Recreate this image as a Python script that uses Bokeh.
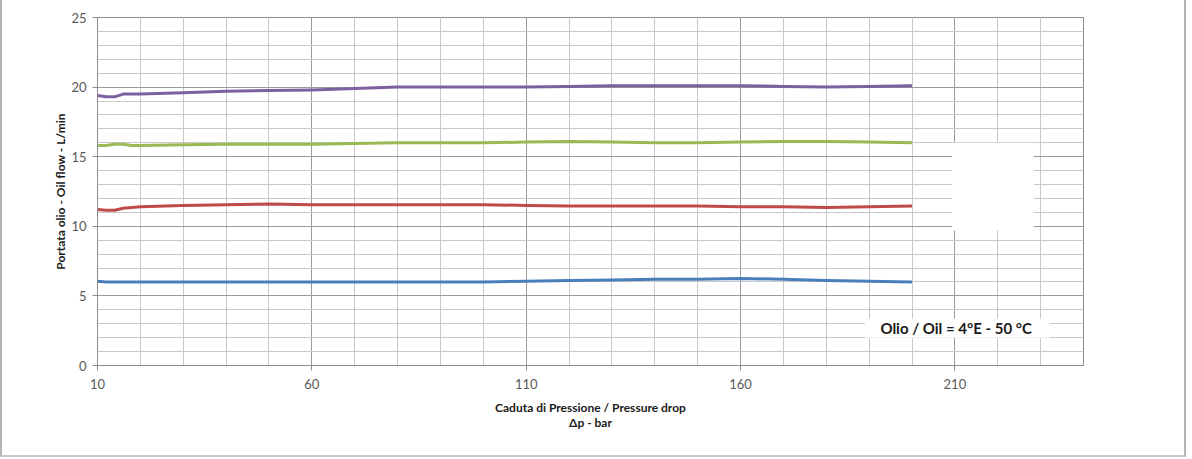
from bokeh.plotting import figure
from bokeh.models import FixedTicker, Range1d, Label
from bokeh.embed import file_html
from bokeh.resources import INLINE

# ---- data ----
dp = [10, 12, 14, 16, 18, 20, 30, 40, 50, 60, 70, 80, 90, 100, 110, 120, 130, 140, 150, 160, 170, 180, 190, 200]
flow_purple = [19.4, 19.3, 19.3, 19.5, 19.5, 19.5, 19.6, 19.7, 19.75, 19.8, 19.9, 20.0, 20.0, 20.0, 20.0, 20.05, 20.1, 20.1, 20.1, 20.1, 20.05, 20.0, 20.05, 20.1]
flow_green = [15.8, 15.8, 15.9, 15.9, 15.8, 15.8, 15.85, 15.9, 15.9, 15.9, 15.95, 16.0, 16.0, 16.0, 16.05, 16.1, 16.05, 16.0, 16.0, 16.05, 16.1, 16.1, 16.05, 16.0]
flow_red = [11.2, 11.15, 11.15, 11.3, 11.35, 11.4, 11.5, 11.55, 11.6, 11.55, 11.55, 11.55, 11.55, 11.55, 11.5, 11.45, 11.45, 11.45, 11.45, 11.4, 11.4, 11.35, 11.4, 11.45]
flow_blue = [6.05, 6.0, 6.0, 6.0, 6.0, 6.0, 6.0, 6.0, 6.0, 6.0, 6.0, 6.0, 6.0, 6.0, 6.05, 6.1, 6.15, 6.2, 6.2, 6.25, 6.2, 6.1, 6.05, 6.0]
x_ticks = [10, 60, 110, 160, 210]
y_ticks = [0, 5, 10, 15, 20, 25]
x_minor = list(range(10, 241, 10))
y_minor = list(range(0, 26, 1))
note_text = "Olio / Oil = 4°E - 50 °C"
x_title = "Caduta di Pressione / Pressure drop\nΔp - bar"
y_title = "Portata olio - Oil flow - L/min"

FONT = "Lato"

p = figure(width=1186, height=457, output_backend="svg", toolbar_location=None,
           x_range=Range1d(10, 240), y_range=Range1d(0, 25),
           min_border_left=95, min_border_right=105, min_border_top=17, min_border_bottom=92)
p.styles = {"border-left": "2px solid #b4b4b4", "border-right": "2px solid #b4b4b4",
            "border-bottom": "2px solid #c8c8c8"}
p.background_fill_color = "white"
p.border_fill_color = "white"
p.outline_line_color = "#8c8c8c"
p.outline_line_width = 1

# axes
p.xaxis.ticker = FixedTicker(ticks=x_ticks, minor_ticks=x_minor)
p.yaxis.ticker = FixedTicker(ticks=y_ticks, minor_ticks=y_minor)
for ax in (p.xaxis[0], p.yaxis[0]):
    ax.axis_line_color = "#8c8c8c"
    ax.major_tick_line_color = "#8c8c8c"
    ax.major_tick_out = 5
    ax.major_tick_in = 0
    ax.minor_tick_line_color = None
    ax.major_label_text_font = FONT
    ax.major_label_text_font_size = "13px"
    ax.major_label_text_color = "#595959"
    ax.axis_label_text_font = FONT
    ax.axis_label_text_font_style = "bold"
    ax.axis_label_text_font_size = "12px"
    ax.axis_label_text_color = "#1a1a1a"
p.xaxis.axis_label = x_title
p.yaxis.axis_label = y_title
p.xaxis.axis_label_text_line_height = 1.05
p.xaxis.major_label_standoff = 8
p.xaxis.axis_label_standoff = 8
p.yaxis.major_label_standoff = 6
p.yaxis.axis_label_standoff = 0

# grid
for g in (p.xgrid[0], p.ygrid[0]):
    g.grid_line_color = "#9a9a9a"
    g.grid_line_width = 1
    g.minor_grid_line_color = "#c8c8c8"
    g.minor_grid_line_width = 1

# series
series = [(flow_blue, "#4a7ebb"), (flow_red, "#be4b48"), (flow_green, "#98b954"), (flow_purple, "#7d60a0")]
for ys, c in series:
    p.line(dp, ys, line_color=c, line_width=3, line_join="round")

# masked region (white box) and note box
p.quad(left=[209.3], right=[228.4], bottom=[9.7], top=[16.0], fill_color="white", line_color=None)
p.quad(left=[189.0], right=[232.1], bottom=[2.0], top=[3.38], fill_color="white", line_color=None)
p.add_layout(Label(x=210.3, y=2.7, text=note_text, text_align="center", text_baseline="middle",
                   text_font=FONT, text_font_style="bold", text_font_size="15px", text_color="#1a1a1a"))

open("out.html", "w").write(file_html(p, INLINE))
